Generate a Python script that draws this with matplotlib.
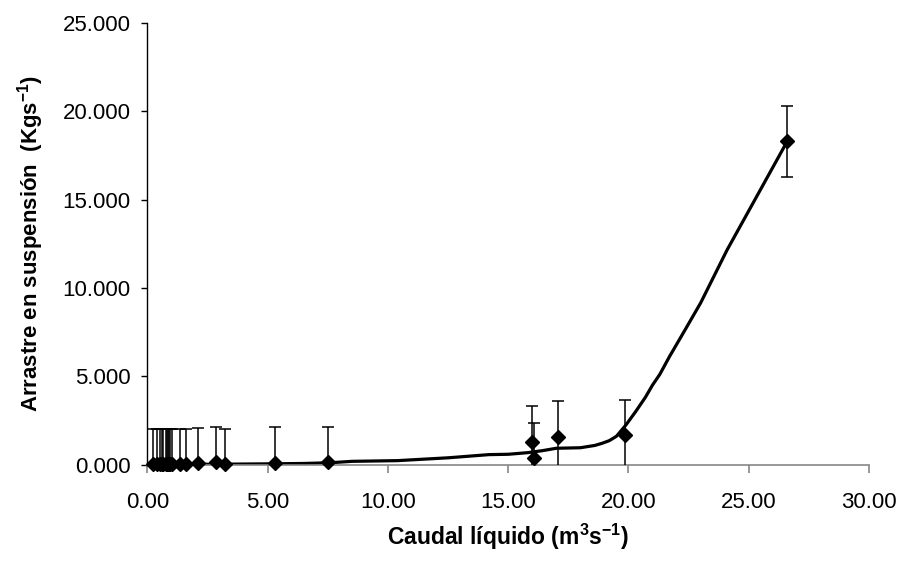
import matplotlib
matplotlib.use("Agg")
import matplotlib.pyplot as plt

plt.rcParams['font.family'] = ['Liberation Sans', 'DejaVu Sans']
plt.rcParams['mathtext.fontset'] = 'custom'
plt.rcParams['mathtext.rm'] = 'Liberation Sans:bold'
plt.rcParams['mathtext.bf'] = 'Liberation Sans:bold'
plt.rcParams['mathtext.it'] = 'Liberation Sans:bold'

# measured points (caudal m3/s, arrastre in thousands Kg/s as on the axis)
caudal = [0.24, 0.38, 0.52, 0.61, 0.66, 0.76, 0.80, 0.84, 0.90, 0.94, 1.00, 1.35,
          1.59, 2.11, 2.85, 3.22, 5.30, 7.51, 15.98, 16.06, 17.06, 19.86, 26.58]
arrastre = [0.01, 0.01, 0.01, 0.01, 0.02, 0.02, 0.02, 0.02, 0.02, 0.02, 0.02, 0.03,
            0.03, 0.08, 0.12, 0.03, 0.10, 0.13, 1.29, 0.35, 1.57, 1.67, 18.30]
error = 2.0

# fitted curve
curva_x = [0.2, 3.2, 5.3, 6.5, 7.6, 8.5, 10.4, 12.5, 14.2, 15.0, 15.8, 16.4, 17.0,
           18.0, 18.6, 18.9, 19.2, 19.5, 19.9, 20.3, 20.7, 21.0, 21.3, 21.7, 22.3,
           23.0, 24.1, 25.3, 26.6]
curva_y = [0.0, 0.02, 0.04, 0.06, 0.10, 0.18, 0.22, 0.38, 0.56, 0.58, 0.67, 0.78, 0.92,
           0.95, 1.08, 1.20, 1.35, 1.60, 2.25, 3.00, 3.80, 4.50, 5.10, 6.10, 7.50,
           9.15, 12.15, 15.10, 18.30]

xticks = [0, 5, 10, 15, 20, 25, 30]
yticks = [0, 5, 10, 15, 20, 25]

fig = plt.figure(figsize=(9.02, 5.66), dpi=100)
ax = fig.add_axes([0.1635, 0.1793, 0.7999, 0.7801])

ax.plot(curva_x, curva_y, color='black', lw=2.3, zorder=2)
ax.errorbar(caudal, arrastre, yerr=error, fmt='none', ecolor='black',
            elinewidth=1.1, capsize=4, capthick=1.1, zorder=3)
ax.plot(caudal, arrastre, linestyle='none', marker='D', markersize=7,
        color='black', clip_on=False, zorder=4)

ax.set_xlim(0, 30)
ax.set_ylim(0, 25)
ax.set_xticks(xticks)
ax.set_xticklabels([f'{v:.2f}' for v in xticks])
ax.set_yticks(yticks)
ax.set_yticklabels([f'{v:.3f}' for v in yticks])

for s in ['top', 'right']:
    ax.spines[s].set_visible(False)
ax.spines['left'].set_color('black')
ax.spines['bottom'].set_color('#868686')
ax.spines['left'].set_linewidth(1.0)
ax.spines['bottom'].set_linewidth(1.2)

ax.tick_params(axis='x', direction='out', length=6, width=1.2, color='#868686',
               labelsize=16, pad=14)
ax.tick_params(axis='y', direction='out', length=4, width=1.0, color='black',
               labelsize=16, pad=8)

ax.set_xlabel(r'Caudal líquido (m$^{3}$s$^{-1}$)', fontsize=16.5,
              fontweight='bold', labelpad=6)
ax.set_ylabel(r'Arrastre en suspensión  (Kgs$^{-1}$)', fontsize=16,
              fontweight='bold', labelpad=12)

fig.savefig('out.png', dpi=100)
